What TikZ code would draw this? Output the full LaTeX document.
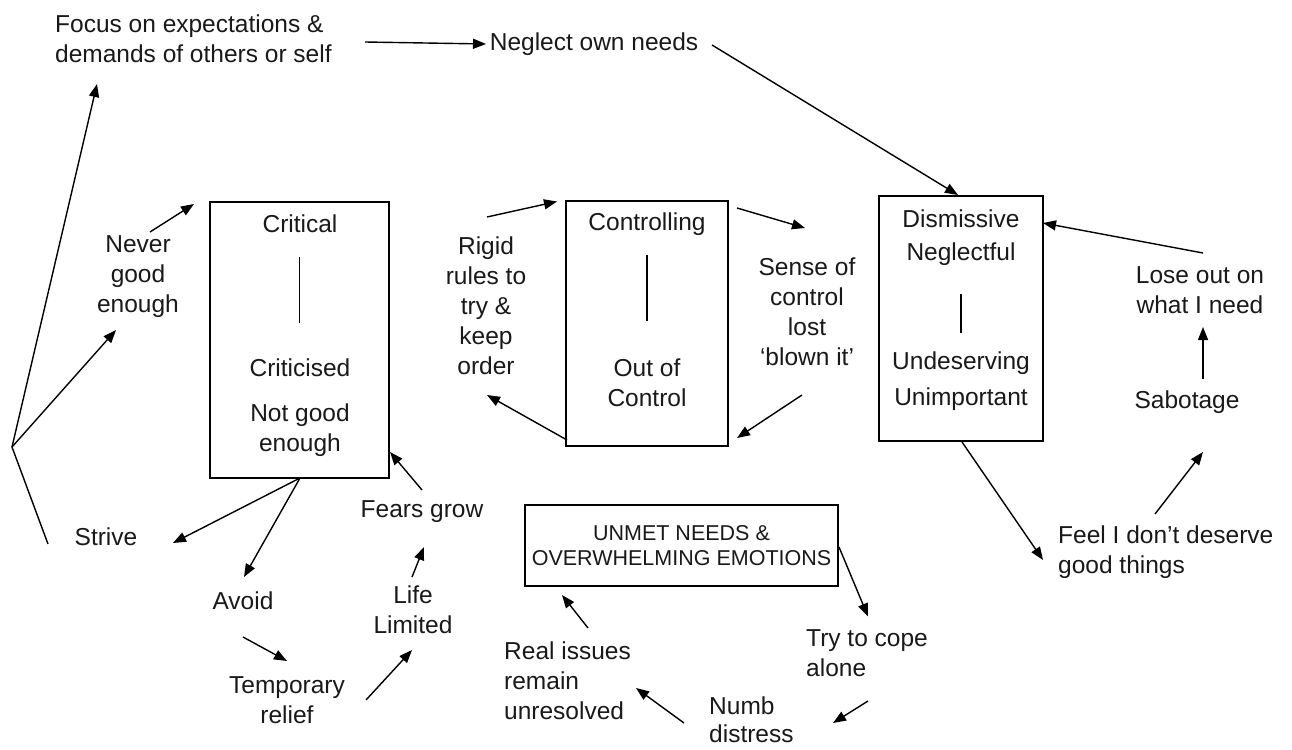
\documentclass[tikz,border=0pt]{standalone}
\usepackage{fontspec}
\setmainfont{Liberation Sans}
\usetikzlibrary{arrows.meta,calc}
\begin{document}
\begin{tikzpicture}[x=1pt,y=-1pt,
  txt/.style={font=\fontsize{24.5}{30}\selectfont, align=center, inner sep=0pt, text=black!90},
  ltxt/.style={txt, align=left, anchor=west},
  box/.style={draw, line width=1.4pt, inner sep=0pt},
  arr/.style={line width=1.4pt, -{Triangle[length=13pt,width=10pt]}},
  ln/.style={line width=1.4pt}]
\useasboundingbox (0,0) rectangle (1292,749);
% boxes
\node[box, minimum width=179pt, minimum height=276pt] (critbox) at (299.5,340) {};
\node[box, minimum width=162pt, minimum height=245pt] (ctrlbox) at (647,323.5) {};
\node[box, minimum width=164pt, minimum height=245pt] (disbox) at (961,318.5) {};
\node[box, minimum width=313pt, minimum height=81pt, align=center,
      font=\fontsize{21.5}{25}\selectfont, text=black!90] (unmet) at (681.5,545.5) {UNMET NEEDS \&\\OVERWHELMING EMOTIONS};
% box contents
\node[txt] (critical) at (300,224) {Critical};
\node[txt] (criticised) at (300,368) {Criticised};
\node[txt] (notgood) at (300,430) {Not good\\enough};
\draw[ln] ($(critbox.north)+(0,56)$) -- ($(critbox.north)+(0,122)$);
\node[txt] (controlling) at (647,224) {Controlling};
\node[txt] (outof) at (647,383) {Out of\\Control};
\draw[ln] ($(ctrlbox.north)+(0,55)$) -- ($(ctrlbox.north)+(0,121)$);
\node[txt] (dis1) at (961,219) {Dismissive};
\node[txt] (dis2) at (961,254) {Neglectful};
\node[txt] (und1) at (961,363) {Undeserving};
\node[txt] (und2) at (961,399) {Unimportant};
\draw[ln] ($(disbox.north)+(0,99)$) -- ($(disbox.north)+(0,138)$);
% free text nodes
\node[ltxt] (focus) at (55,39) {Focus on expectations \&\\demands of others or self};
\node[txt] (neglect) at (594,44) {Neglect own needs};
\node[txt] (never) at (138,277) {Never\\good\\enough};
\node[txt] (strive) at (106,537) {Strive};
\node[txt] (avoid) at (243,601) {Avoid};
\node[txt] (temp) at (287,700.5) {Temporary\\relief};
\node[txt] (life) at (413,610) {Life\\Limited};
\node[txt] (fears) at (422,512) {Fears grow};
\node[txt] (rigid) at (486,306) {Rigid\\rules to\\try \&\\keep\\order};
\node[txt] (sense) at (807,312) {Sense of\\control\\lost\\‘blown it’};
\node[txt] (lose) at (1200,290.5) {Lose out on\\what I need};
\node[txt] (sabotage) at (1187,402) {Sabotage};
\node[ltxt] (feel) at (1058,552.5) {Feel I don’t deserve\\good things};
\node[ltxt] (try) at (806,653.5) {Try to cope\\alone};
\node[ltxt, font=\fontsize{24.5}{28}\selectfont] (numb) at (709,720) {Numb\\distress};
\node[ltxt] (real) at (504,681) {Real issues\\remain\\unresolved};
\coordinate (br) at (12,447);
% connectors
\draw[arr] ($(focus.west)+(310,3)$) -- ($(neglect)+(-108,0)$);
\draw[arr] ($(neglect)+(118,1)$) -- ($(disbox)+(-3,-123.5)$);
\draw[arr] (br) -- ($(focus.west)+(42,45)$);
\draw[arr] (br) -- ($(never)+(-22,53)$);
\draw[ln] ($(strive)+(-58,7)$) -- (br);
\draw[arr] ($(never)+(12,-45)$) -- ($(critbox)+(-105.5,-136)$);
\draw[arr] ($(critbox)+(0.5,138)$) -- ($(strive)+(67,6)$);
\draw[arr] ($(critbox)+(0.5,138)$) -- ($(avoid)+(1,-24)$);
\draw[arr] ($(avoid)+(0,36)$) -- ($(temp)+(0,-39.5)$);
\draw[arr] ($(temp)+(79,-0.5)$) -- ($(life)+(-1,40)$);
\draw[arr] ($(life)+(-1,-33)$) -- ($(fears)+(2,35)$);
\draw[arr] ($(fears)+(0,-22)$) -- ($(critbox)+(90.5,112)$);
\draw[arr] ($(rigid)+(1,-89)$) -- ($(ctrlbox)+(-90,-122)$);
\draw[arr] ($(ctrlbox)+(-80,116.5)$) -- ($(rigid)+(1,89)$);
\draw[arr] ($(ctrlbox)+(90,-115.5)$) -- ($(sense)+(-2,-84)$);
\draw[arr] ($(sense)+(-5,83)$) -- ($(ctrlbox)+(90,114.5)$);
\draw[arr] ($(lose)+(3,-37.5)$) -- ($(disbox)+(82,-95.5)$);
\draw[arr] ($(sabotage)+(16,-23)$) -- ($(lose)+(3,36.5)$);
\draw[arr] ($(feel.west)+(97,-38.5)$) -- ($(sabotage)+(16,50)$);
\draw[arr] ($(disbox)+(1,123.5)$) -- ($(feel.west)+(-15,7.5)$);
\draw[arr] ($(unmet)+(157.5,1.5)$) -- ($(try.west)+(62,-37)$);
\draw[arr] ($(try.west)+(62,47.5)$) -- ($(numb.west)+(124,3)$);
\draw[arr] ($(numb.west)+(-25,3)$) -- ($(real.west)+(132,7)$);
\draw[arr] ($(real.west)+(84,-53)$) -- ($(unmet)+(-119.5,49.5)$);
\end{tikzpicture}
\end{document}
